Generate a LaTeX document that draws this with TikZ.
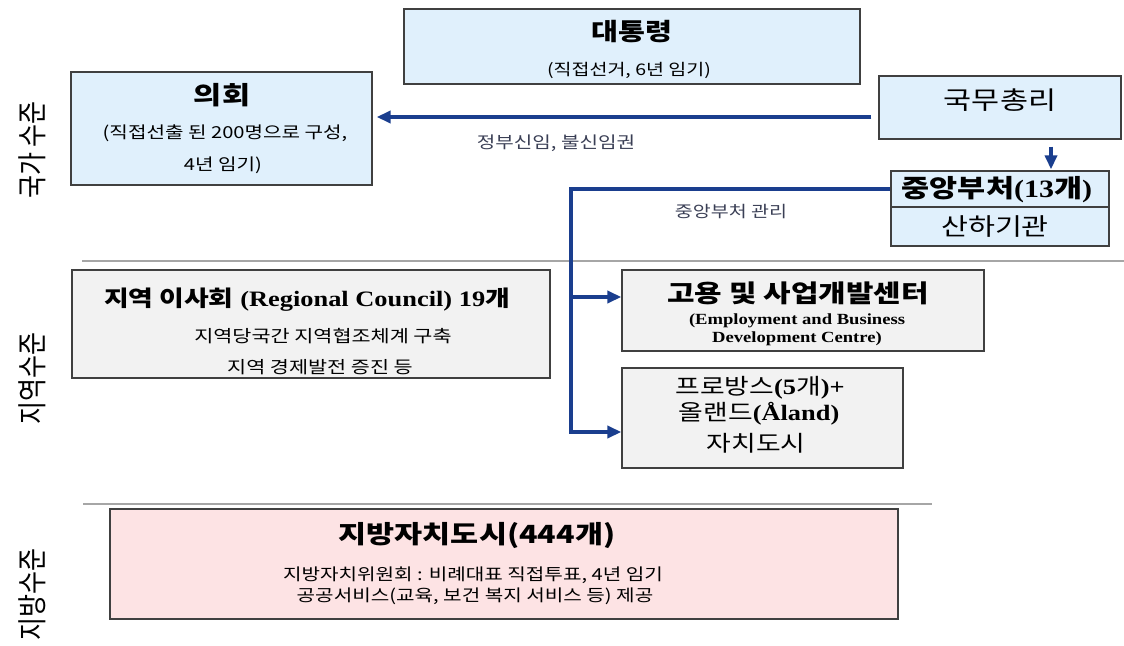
\documentclass[tikz,border=0pt]{standalone}
\usepackage{fontspec}
\usepackage{graphicx}
\usetikzlibrary{arrows.meta}
\setmainfont{Liberation Serif}[FakeStretch=1.2]
\newfontfamily\kr{Noto Sans CJK KR}[FakeStretch=1.22]
\newfontfamily\krside{Noto Sans CJK KR}
\newcommand\fs[1]{\fontsize{#1}{#1}\selectfont}
\newcommand\K[1]{{\kr #1}}
\definecolor{lb}{HTML}{E0F0FC}
\definecolor{gf}{HTML}{F2F2F2}
\definecolor{pk}{HTML}{FDE3E4}
\definecolor{bd}{HTML}{404040}
\definecolor{bl}{HTML}{1A3E8E}
\definecolor{gl}{HTML}{A6A6A6}
\definecolor{lc}{HTML}{3A3F55}
\tikzset{
  bx/.style={draw=bd, line width=1.3pt, inner sep=0pt},
  bline/.style={draw=bl, line width=3.8pt, line join=miter},
  barrow/.style={bline, -{Triangle[length=14pt,width=12pt]}},
  gline/.style={draw=gl, line width=1.3pt},
  tx/.style={inner sep=0pt, anchor=center, text=black},
  lbl/.style={inner sep=0pt, anchor=center, text=lc},
}
\begin{document}
\begin{tikzpicture}[x=1pt,y=-1pt]
\useasboundingbox (0,0) rectangle (1124,645);
% separators
\coordinate (s1a) at (82,261);  \coordinate (s1b) at (1124,261);
\coordinate (s2a) at (83,504);  \coordinate (s2b) at (932,504);
\draw[gline] (s1a) -- (s1b);
\draw[gline] (s2a) -- (s2b);
% boxes
\node[bx, fill=lb, minimum width=456pt, minimum height=75pt] (pres) at (632,46.5) {};
\node[bx, fill=lb, minimum width=301pt, minimum height=113pt] (parl) at (221.5,128.5) {};
\node[bx, fill=lb, minimum width=242pt, minimum height=63pt] (pm) at (1000,107.5) {};
\node[bx, fill=lb, minimum width=218pt, minimum height=75pt] (min) at (1000,208.5) {};
\draw[draw=bd, line width=1.3pt] (min.west |- 0,207) -- (min.east |- 0,207);
\node[bx, fill=gf, minimum width=478pt, minimum height=108pt] (reg) at (311,324) {};
\node[bx, fill=gf, minimum width=362pt, minimum height=81pt] (emp) at (803,310.5) {};
\node[bx, fill=gf, minimum width=281pt, minimum height=100pt] (prov) at (762.5,418) {};
\node[bx, fill=pk, minimum width=788pt, minimum height=110pt] (loc) at (504,564) {};
% side labels
\node[tx] (side1) at (32,150) {\scalebox{1.2}[1]{\rotatebox{90}{\krside\fs{25}국가 수준}}};
\node[tx] (side2) at (32,378) {\scalebox{1.2}[1]{\rotatebox{90}{\krside\fs{25}지역수준}}};
\node[tx] (side3) at (32,594) {\scalebox{1.2}[1]{\rotatebox{90}{\krside\fs{25}지방수준}}};
% texts
\node[tx] (t1) at (632,32) {\kr\bfseries\fs{24}대통령};
\node[tx] (t2) at (629,70) {\kr\fs{16}(직접선거, 6년 임기)};
\node[tx] (t3) at (222,95) {\kr\bfseries\fs{25}의회};
\node[tx] (t4) at (225,133) {\kr\fs{16.5}(직접선출 된 200명으로 구성,};
\node[tx] (t5) at (223,165) {\kr\fs{16.5}4년 임기)};
\node[tx] (t6) at (1000,100) {\kr\fs{25}국무총리};
\node[tx] (t7) at (997,190) {\fs{25}\bfseries\K{중앙부처}(13\K{개})};
\node[tx] (t8) at (995,227) {\kr\fs{24}산하기관};
\node[tx] (t9) at (307,300) {\fs{22}\bfseries\K{지역 이사회} (Regional Council) 19\K{개}};
\node[tx] (t10) at (323,336) {\kr\fs{17}지역당국간 지역협조체계 구축};
\node[tx] (t11) at (320,367) {\kr\fs{17}지역 경제발전 증진 등};
\node[tx] (t12) at (798,293) {\kr\bfseries\fs{24.5}고용 및 사업개발센터};
\node[tx] (t13) at (797,321) {\bfseries\fs{15.5}(Employment and Business};
\node[tx] (t14) at (797,339) {\bfseries\fs{15.5}Development Centre)};
\node[tx] (t15) at (760,388) {\fs{22}\K{프로방스}\textbf{(5}\K{개}\textbf{)+}};
\node[tx] (t16) at (759,414) {\fs{22}\K{올랜드}\textbf{(Åland)}};
\node[tx] (t17) at (756,443) {\kr\fs{22}자치도시};
\node[tx] (t18) at (477,535) {\kr\bfseries\fs{25}지방자치도시(444개)};
\node[tx] (t19) at (473,575) {\kr\fs{16.5}지방자치위원회 : 비례대표 직접투표, 4년 임기};
\node[tx] (t20) at (475,596) {\kr\fs{16.5}공공서비스(교육, 보건 복지 서비스 등) 제공};
% connector labels
\node[lbl] (l1) at (556,143) {\kr\fs{16.5}정부신임, 불신임권};
\node[lbl] (l2) at (731,212) {\kr\fs{16}중앙부처 관리};
% connectors
\coordinate (j1) at (571,189);
\coordinate (j2) at (571,297);
\coordinate (j3) at (571,432);
\draw[barrow, shorten <=7pt, shorten >=4pt] (pm.west |- 0,117) -- (parl.east |- 0,117);
\draw[barrow, shorten <=7pt, shorten >=1pt] (pm.south -| 1051,0) -- (min.north -| 1051,0);
\draw[barrow] (min.west |- j1) -- (j1) -- (j3) -- (prov.west |- j3);
\draw[barrow] (j2) -- (emp.west |- j2);
\end{tikzpicture}
\end{document}
